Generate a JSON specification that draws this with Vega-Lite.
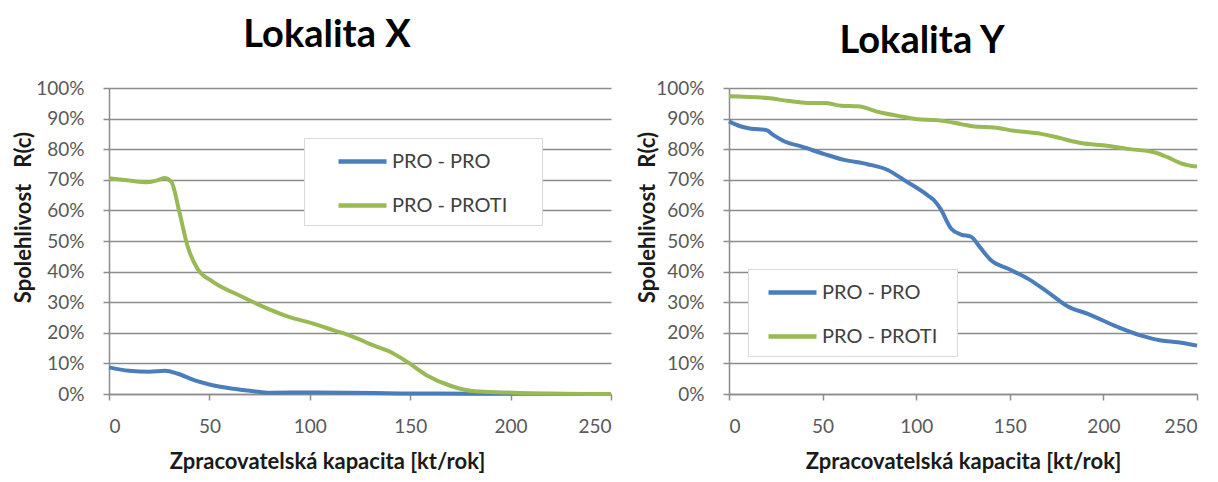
{
  "$schema": "https://vega.github.io/schema/vega-lite/v6.json",
  "background": "white",
  "padding": {"left": 11, "top": 17, "right": 5, "bottom": 5},
  "bounds": "flush",
  "spacing": 118,
  "config": {
    "font": "Lato",
    "view": {"stroke": null},
    "axis": {
      "labelFont": "Lato", "labelFontSize": 19, "labelColor": "#595959",
      "titleFont": "Lato", "titleFontSize": 22, "titleFontWeight": "bold", "titleColor": "#1a1a1a",
      "domainColor": "#8c8c8c", "domainWidth": 1.5, "tickColor": "#8c8c8c", "tickWidth": 1.5, "tickSize": 6,
      "gridColor": "#8c8c8c", "gridWidth": 1.5, "gridOpacity": 1
    },
    "legend": {
      "symbolType": "M-2,0H2", "symbolStrokeWidth": 4.5, "symbolSize": 576,
      "labelFont": "Lato", "labelFontSize": 20, "labelColor": "#404040", "labelOffset": 15,
      "strokeColor": "#d9d9d9", "fillColor": "white", "padding": 9, "rowPadding": 19
    }
  },
  "data": {"values": [
    {"panel": "X", "serie": "PRO - PRO", "k": 0, "r": 8.7},
    {"panel": "X", "serie": "PRO - PRO", "k": 10, "r": 7.6},
    {"panel": "X", "serie": "PRO - PRO", "k": 20, "r": 7.3},
    {"panel": "X", "serie": "PRO - PRO", "k": 28, "r": 7.6},
    {"panel": "X", "serie": "PRO - PRO", "k": 34, "r": 6.7},
    {"panel": "X", "serie": "PRO - PRO", "k": 42, "r": 4.6},
    {"panel": "X", "serie": "PRO - PRO", "k": 50, "r": 3.1},
    {"panel": "X", "serie": "PRO - PRO", "k": 62, "r": 1.7},
    {"panel": "X", "serie": "PRO - PRO", "k": 72, "r": 0.9},
    {"panel": "X", "serie": "PRO - PRO", "k": 80, "r": 0.4},
    {"panel": "X", "serie": "PRO - PRO", "k": 100, "r": 0.5},
    {"panel": "X", "serie": "PRO - PRO", "k": 120, "r": 0.4},
    {"panel": "X", "serie": "PRO - PRO", "k": 145, "r": 0.2},
    {"panel": "X", "serie": "PRO - PRO", "k": 180, "r": 0.1},
    {"panel": "X", "serie": "PRO - PRO", "k": 210, "r": 0.05},
    {"panel": "X", "serie": "PRO - PRO", "k": 250, "r": 0},
    {"panel": "X", "serie": "PRO - PROTI", "k": 0, "r": 70.5},
    {"panel": "X", "serie": "PRO - PROTI", "k": 10, "r": 69.8},
    {"panel": "X", "serie": "PRO - PROTI", "k": 19, "r": 69.2},
    {"panel": "X", "serie": "PRO - PROTI", "k": 24, "r": 69.8},
    {"panel": "X", "serie": "PRO - PROTI", "k": 27.5, "r": 70.6},
    {"panel": "X", "serie": "PRO - PROTI", "k": 31, "r": 69.4},
    {"panel": "X", "serie": "PRO - PROTI", "k": 35, "r": 59.6},
    {"panel": "X", "serie": "PRO - PROTI", "k": 39, "r": 48.6},
    {"panel": "X", "serie": "PRO - PROTI", "k": 44, "r": 41},
    {"panel": "X", "serie": "PRO - PROTI", "k": 52, "r": 36.6},
    {"panel": "X", "serie": "PRO - PROTI", "k": 65, "r": 32.2},
    {"panel": "X", "serie": "PRO - PROTI", "k": 79, "r": 27.9},
    {"panel": "X", "serie": "PRO - PROTI", "k": 90, "r": 25.1},
    {"panel": "X", "serie": "PRO - PROTI", "k": 100, "r": 23.3},
    {"panel": "X", "serie": "PRO - PROTI", "k": 112, "r": 20.8},
    {"panel": "X", "serie": "PRO - PROTI", "k": 120, "r": 19.1},
    {"panel": "X", "serie": "PRO - PROTI", "k": 132, "r": 15.8},
    {"panel": "X", "serie": "PRO - PROTI", "k": 140, "r": 13.8},
    {"panel": "X", "serie": "PRO - PROTI", "k": 148.7, "r": 10.4},
    {"panel": "X", "serie": "PRO - PROTI", "k": 158.6, "r": 6},
    {"panel": "X", "serie": "PRO - PROTI", "k": 170, "r": 2.7},
    {"panel": "X", "serie": "PRO - PROTI", "k": 182, "r": 0.9},
    {"panel": "X", "serie": "PRO - PROTI", "k": 198, "r": 0.5},
    {"panel": "X", "serie": "PRO - PROTI", "k": 212, "r": 0.2},
    {"panel": "X", "serie": "PRO - PROTI", "k": 250, "r": 0},
    {"panel": "Y", "serie": "PRO - PRO", "k": 0, "r": 89.1},
    {"panel": "Y", "serie": "PRO - PRO", "k": 6, "r": 87.5},
    {"panel": "Y", "serie": "PRO - PRO", "k": 11.8, "r": 86.7},
    {"panel": "Y", "serie": "PRO - PRO", "k": 19.8, "r": 86.3},
    {"panel": "Y", "serie": "PRO - PRO", "k": 24, "r": 84.5},
    {"panel": "Y", "serie": "PRO - PRO", "k": 29.7, "r": 82.5},
    {"panel": "Y", "serie": "PRO - PRO", "k": 38.5, "r": 80.9},
    {"panel": "Y", "serie": "PRO - PRO", "k": 51, "r": 78.4},
    {"panel": "Y", "serie": "PRO - PRO", "k": 61.6, "r": 76.5},
    {"panel": "Y", "serie": "PRO - PRO", "k": 74, "r": 75.1},
    {"panel": "Y", "serie": "PRO - PRO", "k": 84.8, "r": 73.2},
    {"panel": "Y", "serie": "PRO - PRO", "k": 93.6, "r": 69.9},
    {"panel": "Y", "serie": "PRO - PRO", "k": 106, "r": 65},
    {"panel": "Y", "serie": "PRO - PRO", "k": 110, "r": 63},
    {"panel": "Y", "serie": "PRO - PRO", "k": 113, "r": 60.5},
    {"panel": "Y", "serie": "PRO - PRO", "k": 118.6, "r": 54.1},
    {"panel": "Y", "serie": "PRO - PRO", "k": 124, "r": 52.1},
    {"panel": "Y", "serie": "PRO - PRO", "k": 129.3, "r": 51.4},
    {"panel": "Y", "serie": "PRO - PRO", "k": 134, "r": 48},
    {"panel": "Y", "serie": "PRO - PRO", "k": 140, "r": 43.7},
    {"panel": "Y", "serie": "PRO - PRO", "k": 148.9, "r": 41},
    {"panel": "Y", "serie": "PRO - PRO", "k": 159.6, "r": 37.7},
    {"panel": "Y", "serie": "PRO - PRO", "k": 170.3, "r": 33.3},
    {"panel": "Y", "serie": "PRO - PRO", "k": 181, "r": 28.6},
    {"panel": "Y", "serie": "PRO - PRO", "k": 191.7, "r": 26.2},
    {"panel": "Y", "serie": "PRO - PRO", "k": 207.7, "r": 21.9},
    {"panel": "Y", "serie": "PRO - PRO", "k": 220.2, "r": 19.1},
    {"panel": "Y", "serie": "PRO - PRO", "k": 230.8, "r": 17.5},
    {"panel": "Y", "serie": "PRO - PRO", "k": 239.8, "r": 16.9},
    {"panel": "Y", "serie": "PRO - PRO", "k": 250, "r": 15.8},
    {"panel": "Y", "serie": "PRO - PROTI", "k": 0, "r": 97.3},
    {"panel": "Y", "serie": "PRO - PROTI", "k": 20.7, "r": 96.7},
    {"panel": "Y", "serie": "PRO - PROTI", "k": 31.3, "r": 95.8},
    {"panel": "Y", "serie": "PRO - PROTI", "k": 42, "r": 95.1},
    {"panel": "Y", "serie": "PRO - PROTI", "k": 51, "r": 95.1},
    {"panel": "Y", "serie": "PRO - PROTI", "k": 60, "r": 94.2},
    {"panel": "Y", "serie": "PRO - PROTI", "k": 68.7, "r": 94},
    {"panel": "Y", "serie": "PRO - PROTI", "k": 81, "r": 92},
    {"panel": "Y", "serie": "PRO - PROTI", "k": 92, "r": 90.7},
    {"panel": "Y", "serie": "PRO - PROTI", "k": 100.8, "r": 89.8},
    {"panel": "Y", "serie": "PRO - PROTI", "k": 111, "r": 89.5},
    {"panel": "Y", "serie": "PRO - PROTI", "k": 124, "r": 88.2},
    {"panel": "Y", "serie": "PRO - PROTI", "k": 131, "r": 87.4},
    {"panel": "Y", "serie": "PRO - PROTI", "k": 141.7, "r": 87.1},
    {"panel": "Y", "serie": "PRO - PROTI", "k": 152.4, "r": 86},
    {"panel": "Y", "serie": "PRO - PROTI", "k": 166.7, "r": 85},
    {"panel": "Y", "serie": "PRO - PROTI", "k": 175.6, "r": 83.8},
    {"panel": "Y", "serie": "PRO - PROTI", "k": 188, "r": 82},
    {"panel": "Y", "serie": "PRO - PROTI", "k": 202, "r": 81.1},
    {"panel": "Y", "serie": "PRO - PROTI", "k": 213, "r": 80.1},
    {"panel": "Y", "serie": "PRO - PROTI", "k": 227, "r": 79},
    {"panel": "Y", "serie": "PRO - PROTI", "k": 234.5, "r": 77.3},
    {"panel": "Y", "serie": "PRO - PROTI", "k": 241.5, "r": 75.4},
    {"panel": "Y", "serie": "PRO - PROTI", "k": 250, "r": 74.3}
  ]},
  "resolve": {"scale": {"color": "independent"}, "legend": {"color": "independent"}},
  "hconcat": [
    {
      "width": 502, "height": 306,
      "title": {"text": "Lokalita X", "fontSize": 38, "font": "Lato", "fontWeight": "bold", "color": "#000000", "anchor": "middle", "dx": -33, "offset": 24},
      "transform": [{"filter": "datum.panel === 'X'"}],
      "mark": {"type": "line", "interpolate": "monotone", "strokeWidth": 4},
      "encoding": {
        "x": {"field": "k", "type": "quantitative", "scale": {"domain": [0, 250], "nice": false},
          "axis": {"values": [0, 50, 100, 150, 200, 250], "grid": false, "labelPadding": 17, "title": "Zpracovatelská kapacita [kt/rok]", "titleX": 218, "titleY": 67, "titleBaseline": "middle"}},
        "y": {"field": "r", "type": "quantitative", "scale": {"domain": [0, 100], "nice": false},
          "axis": {"values": [0, 10, 20, 30, 40, 50, 60, 70, 80, 90, 100], "labelExpr": "datum.value + '%'", "labelPadding": 19, "title": "Spolehlivost\u00a0\u00a0\u00a0R(c)", "titleX": -86, "titleY": 129, "titleAngle": -90, "titleAlign": "center", "titleBaseline": "middle"}},
        "color": {"field": "serie", "type": "nominal", "scale": {"domain": ["PRO - PRO", "PRO - PROTI"], "range": ["#4a7ebb", "#98b954"]},
          "legend": {"title": null, "orient": "none", "legendX": 195, "legendY": 50, "symbolOffset": 35, "labelExpr": "datum.label + '\u00a0\u00a0\u00a0\u00a0\u00a0\u200b'"}}
      }
    },
    {
      "width": 468, "height": 306,
      "title": {"text": "Lokalita Y", "fontSize": 38, "font": "Lato", "fontWeight": "bold", "color": "#000000", "anchor": "middle", "dx": -41, "offset": 18},
      "transform": [{"filter": "datum.panel === 'Y'"}],
      "mark": {"type": "line", "interpolate": "monotone", "strokeWidth": 4},
      "encoding": {
        "x": {"field": "k", "type": "quantitative", "scale": {"domain": [0, 250], "nice": false},
          "axis": {"values": [0, 50, 100, 150, 200, 250], "grid": false, "labelPadding": 17, "title": "Zpracovatelská kapacita [kt/rok]", "titleX": 234, "titleY": 67, "titleBaseline": "middle"}},
        "y": {"field": "r", "type": "quantitative", "scale": {"domain": [0, 100], "nice": false},
          "axis": {"values": [0, 10, 20, 30, 40, 50, 60, 70, 80, 90, 100], "labelExpr": "datum.value + '%'", "labelPadding": 19, "title": "Spolehlivost\u00a0\u00a0\u00a0R(c)", "titleX": -82, "titleY": 129, "titleAngle": -90, "titleAlign": "center", "titleBaseline": "middle"}},
        "color": {"field": "serie", "type": "nominal", "scale": {"domain": ["PRO - PRO", "PRO - PROTI"], "range": ["#4a7ebb", "#98b954"]},
          "legend": {"title": null, "orient": "none", "legendX": 19, "legendY": 181, "symbolOffset": 21, "labelExpr": "datum.label + '\u00a0\u00a0\u200b'"}}
      }
    }
  ]
}
